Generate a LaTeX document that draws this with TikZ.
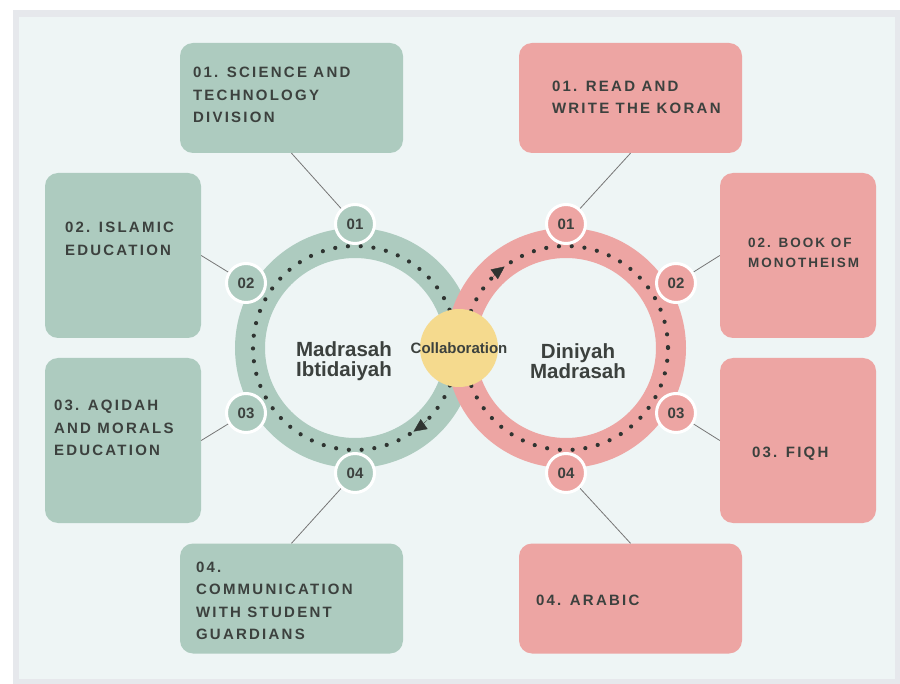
\documentclass[tikz,border=0pt]{standalone}
\usepackage{fontspec}
\setmainfont{Liberation Sans}
\newfontfamily\capsfont[LetterSpace=15]{Liberation Sans}
\usetikzlibrary{calc,positioning,arrows.meta,shapes.geometric}
\definecolor{sage}{HTML}{ADCBBF}
\definecolor{blush}{HTML}{EDA5A3}
\definecolor{sun}{HTML}{F5DA8E}
\definecolor{paper}{HTML}{EEF5F5}
\definecolor{frame}{HTML}{E6E8EC}
\definecolor{ink}{HTML}{3C413E}
\definecolor{dotgray}{HTML}{2F3431}
\definecolor{wire}{HTML}{767676}
\newcommand\panelfont{\capsfont\bfseries\fontsize{15}{22.5}\selectfont}
\newcommand\smallpanelfont{\capsfont\bfseries\fontsize{13.5}{19.5}\selectfont}
\tikzset{
	>={Triangle[length=13pt,width=12pt]},
	panel/.style={
		rectangle,
		rounded corners=13pt,
		fill=#1,
		inner sep=0pt},
	widepanel/.style={panel=#1, minimum width=223pt, minimum height=110pt},
	tallpanel/.style={panel=#1, minimum width=156pt, minimum height=165pt},
	paneltext/.style={anchor=north west, inner sep=0pt, align=left, text=ink, font=\panelfont},
	ring/.style={draw=#1, line width=30pt},
	ringdots/.style={draw=dotgray, line width=4.2pt, line cap=round, dash pattern=on 0pt off 12.8pt},
	flow/.style={draw=dotgray, line width=0.3pt, ->},
	badge/.style={
		circle,
		fill=#1,
		draw=white, line width=3pt,
		minimum size=39pt,
		inner sep=0pt,
		text=ink,
		font=\bfseries\fontsize{15}{15}\selectfont},
	link/.style={draw=wire, line width=0.8pt},
	hub/.style={align=center, text=ink, font=\bfseries\fontsize{20.5}{20}\selectfont},
}

\begin{document}
\begin{tikzpicture}[x=1pt,y=-1pt]
\useasboundingbox (0,0) rectangle (900,684);
\fill[white] (0,0) rectangle (900,684);
\fill[frame] (13,10) rectangle (900,684);
\fill[paper] (19,17) rectangle (895,679);

% panels, left side
\node[widepanel=sage] (g1) at (291.5,98) {};
\node[tallpanel=sage] (g2) at (123,255.5) {};
\node[tallpanel=sage] (g3) at (123,440.5) {};
\node[widepanel=sage] (g4) at (291.5,598.5) {};
\node[paneltext] (g1t) at ($(g1.north west)+(13,24.3)$) {01. SCIENCE AND\\TECHNOLOGY\\DIVISION};
\node[paneltext] (g2t) at ($(g2.north west)+(20,49.3)$) {02. ISLAMIC\\EDUCATION};
\node[paneltext] (g3t) at ($(g3.north west)+(9,42.3)$) {03. AQIDAH\\AND MORALS\\EDUCATION};
\node[paneltext] (g4t) at ($(g4.north west)+(16,18.3)$) {04.\\COMMUNICATION\\WITH STUDENT\\GUARDIANS};

% panels, right side
\node[widepanel=blush] (p1) at (630.5,98) {};
\node[tallpanel=blush] (p2) at (798,255.5) {};
\node[tallpanel=blush] (p3) at (798,440.5) {};
\node[widepanel=blush] (p4) at (630.5,598.5) {};
\node[paneltext] (p1t) at ($(p1.north west)+(33,37.8)$) {01. READ AND\\WRITE THE KORAN};
\node[paneltext, font=\smallpanelfont] (p2t) at ($(p2.north west)+(28,65.5)$) {02. BOOK OF\\MONOTHEISM};
\node[paneltext] (p3t) at ($(p3.north west)+(32,89.3)$) {03. FIQH};
\node[paneltext] (p4t) at ($(p4.north west)+(17,51.3)$) {04. ARABIC};

% the two rings
\coordinate (lc) at (355,348);
\coordinate (rc) at (566,348);
\draw[ring=sage] (lc) circle[radius=105];
\draw[ring=blush] (rc) circle[radius=105];
\draw[ringdots] (lc) circle[radius=102];
\draw[ringdots] (rc) circle[radius=102];
\draw[flow] ($(lc)+(45:102)$) arc[start angle=45, end angle=55, radius=102];
\draw[flow] ($(rc)+(223:102)$) arc[start angle=223, end angle=233, radius=102];

\node[circle, fill=sun, minimum size=78pt, inner sep=0pt,
	label={[text=ink, font=\bfseries\fontsize{15}{15}\selectfont]center:Collaboration}] (collab) at (459,348) {};
\node[hub] (mi) at (344,361) {Madrasah\\Ibtidaiyah};
\node[hub] (dm) at (578,361) {Diniyah\\Madrasah};

% badges
\node[badge=sage] (gb1) at (355,224) {01};
\node[badge=sage] (gb2) at (246,283) {02};
\node[badge=sage] (gb3) at (246,413) {03};
\node[badge=sage] (gb4) at (355,473) {04};
\node[badge=blush] (pb1) at (566,224) {01};
\node[badge=blush] (pb2) at (676,283) {02};
\node[badge=blush] (pb3) at (676,413) {03};
\node[badge=blush] (pb4) at (566,473) {04};

\draw[link] (g1.south) -- (gb1);
\draw[link] (g2.east) -- (gb2);
\draw[link] (g3.east) -- (gb3);
\draw[link] (g4.north) -- (gb4);
\draw[link] (p1.south) -- (pb1);
\draw[link] (p2.west) -- (pb2);
\draw[link] (p3.west) -- (pb3);
\draw[link] (p4.north) -- (pb4);

\end{tikzpicture}
\end{document}
